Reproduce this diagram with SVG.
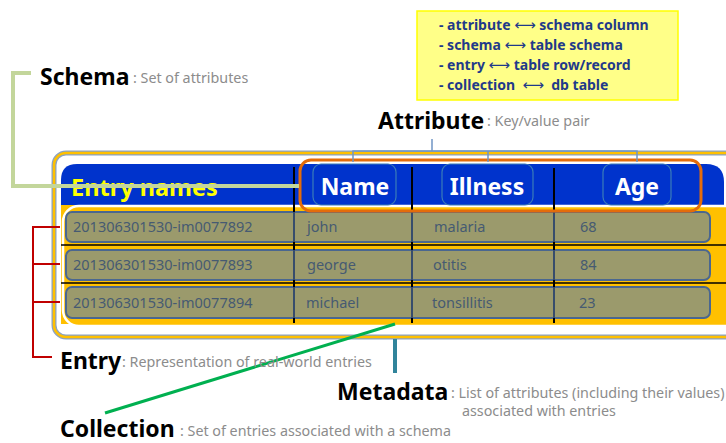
<svg xmlns="http://www.w3.org/2000/svg" width="726" height="443" viewBox="0 0 726 443">
<style>
.lbl{font-family:"Noto Sans","Open Sans",sans-serif;font-weight:bold;font-size:23px;fill:#000}
.desc{font-family:"Noto Sans","Open Sans",sans-serif;font-size:14.3px;fill:#8c8c8c}
.cell{font-family:"Noto Sans","Open Sans",sans-serif;font-size:14.5px;fill:#465a72}
.hdr{font-family:"Noto Sans","Open Sans",sans-serif;font-weight:bold;font-size:23px;fill:#fff}
.note{font-family:"Noto Sans","Open Sans",sans-serif;font-weight:bold;font-size:14px;fill:#1f3a8a}
.arr{font-family:"DejaVu Sans",sans-serif;font-weight:normal;font-size:15px}
.row{fill:#9b9a6c;stroke:#4a6790;stroke-width:2}
.hbox{fill:#0033cc;stroke:#3a7cb8;stroke-width:1.2}
</style>
<rect width="726" height="443" fill="#fff"/>
<g id="table">
<rect x="54" y="153" width="690" height="184" rx="12" fill="#fff" stroke="#8aa2c2" stroke-width="5"/>
<rect x="54" y="153" width="690" height="184" rx="12" fill="none" stroke="#ffc000" stroke-width="2.5"/>
<path d="M61,180 Q61,164 77,164 L706,164 Q724,164 724,182 L724,205 L61,205 Z" fill="#0033cc"/>
<rect x="61" y="205" width="665" height="119" fill="#ffc000"/>
<rect x="63" y="206" width="684" height="120" rx="16" fill="#ffc000" stroke="#fff" stroke-width="2.5"/>
<line x1="61" y1="245" x2="726" y2="245" stroke="#000" stroke-width="1.5"/>
<line x1="61" y1="283" x2="726" y2="283" stroke="#000" stroke-width="1.5"/>
<rect class="row" x="66" y="212" width="644" height="30" rx="6"/>
<rect class="row" x="66" y="250" width="644" height="30" rx="6"/>
<rect class="row" x="66" y="287" width="644" height="31" rx="6"/>
<g stroke="#000" stroke-width="2">
<line x1="294" y1="167" x2="294" y2="323"/>
<line x1="412" y1="167" x2="412" y2="323"/>
<line x1="554" y1="168" x2="554" y2="323"/>
</g>
<g stroke="#4a6790" stroke-width="1.5">
<line x1="294" y1="212" x2="294" y2="242"/><line x1="294" y1="250" x2="294" y2="280"/><line x1="294" y1="287" x2="294" y2="318"/>
<line x1="412" y1="212" x2="412" y2="242"/><line x1="412" y1="250" x2="412" y2="280"/><line x1="412" y1="287" x2="412" y2="318"/>
<line x1="554" y1="212" x2="554" y2="242"/><line x1="554" y1="250" x2="554" y2="280"/><line x1="554" y1="287" x2="554" y2="318"/>
</g>
<text x="71" y="196" font-family="Noto Sans, sans-serif" font-weight="bold" font-size="23.5" fill="#ffff00">Entry names</text>
<text class="cell" x="73" y="232">201306301530-im0077892</text>
<text class="cell" x="307" y="232">john</text>
<text class="cell" x="434" y="232">malaria</text>
<text class="cell" x="580" y="232">68</text>
<text class="cell" x="73" y="270">201306301530-im0077893</text>
<text class="cell" x="307" y="270">george</text>
<text class="cell" x="433" y="270">otitis</text>
<text class="cell" x="580" y="270">84</text>
<text class="cell" x="73" y="308">201306301530-im0077894</text>
<text class="cell" x="306" y="308">michael</text>
<text class="cell" x="432" y="308">tonsillitis</text>
<text class="cell" x="579" y="308">23</text>
</g>
<g id="attributes-header">
<rect class="hbox" x="313" y="164" width="83" height="41" rx="8"/>
<rect class="hbox" x="442" y="164" width="91" height="41" rx="8"/>
<rect class="hbox" x="603" y="164" width="68" height="41" rx="8"/>
<text class="hdr" x="355" y="195" text-anchor="middle">Name</text>
<text class="hdr" x="487" y="195" text-anchor="middle">Illness</text>
<text class="hdr" x="637" y="195" text-anchor="middle">Age</text>
<rect x="300" y="160" width="401" height="51" rx="11" fill="none" stroke="#e46c0a" stroke-width="3"/>
</g>
<g id="connectors" fill="none">
<polyline points="31,73 13,73 13,186 299,186" stroke="#c3d69b" stroke-width="4"/>
<g stroke="#6f95c4" stroke-width="1.5">
<line x1="432" y1="139" x2="432" y2="151"/>
<polyline points="353,162 353,151 637,151 637,162"/>
<line x1="488" y1="151" x2="488" y2="162"/>
</g>
<g stroke="#c00000" stroke-width="2">
<polyline points="52,357 33,357 33,227 60,227"/>
<line x1="33" y1="264" x2="60" y2="264"/>
<line x1="33" y1="302" x2="60" y2="302"/>
</g>
<line x1="395" y1="339" x2="395" y2="373" stroke="#31849b" stroke-width="4"/>
<line x1="395" y1="324" x2="105" y2="413" stroke="#00b050" stroke-width="3"/>
</g>
<g id="schema">
<text class="lbl" x="40" y="85">Schema</text>
<text class="desc" x="133" y="83">: Set of attributes</text>
</g>
<g id="attribute">
<text class="lbl" x="378" y="129">Attribute</text>
<text class="desc" x="487" y="126">: Key/value pair</text>
</g>
<g id="entry">
<text class="lbl" x="60" y="369">Entry</text>
<text class="desc" x="122" y="367">: Representation of real-world entries</text>
</g>
<g id="metadata">
<text class="lbl" x="337" y="400">Metadata</text>
<text class="desc" x="451" y="398">: List of attributes (including their values)</text>
<text class="desc" x="462" y="416">associated with entries</text>
</g>
<g id="collection">
<text class="lbl" x="60" y="437">Collection</text>
<text class="desc" x="180" y="436">: Set of entries associated with a schema</text>
</g>
<g id="note">
<rect x="417" y="11" width="261" height="89" fill="#ffff88" stroke="#ffff00" stroke-width="1.5"/>
<text class="note" x="439" y="30">- attribute <tspan class="arr">⟷</tspan> schema column</text>
<text class="note" x="439" y="50">- schema <tspan class="arr">⟷</tspan> table schema</text>
<text class="note" x="439" y="70">- entry <tspan class="arr">⟷</tspan> table row/record</text>
<text class="note" x="439" y="90" xml:space="preserve">- collection  <tspan class="arr">⟷</tspan>  db table</text>
</g>
</svg>
